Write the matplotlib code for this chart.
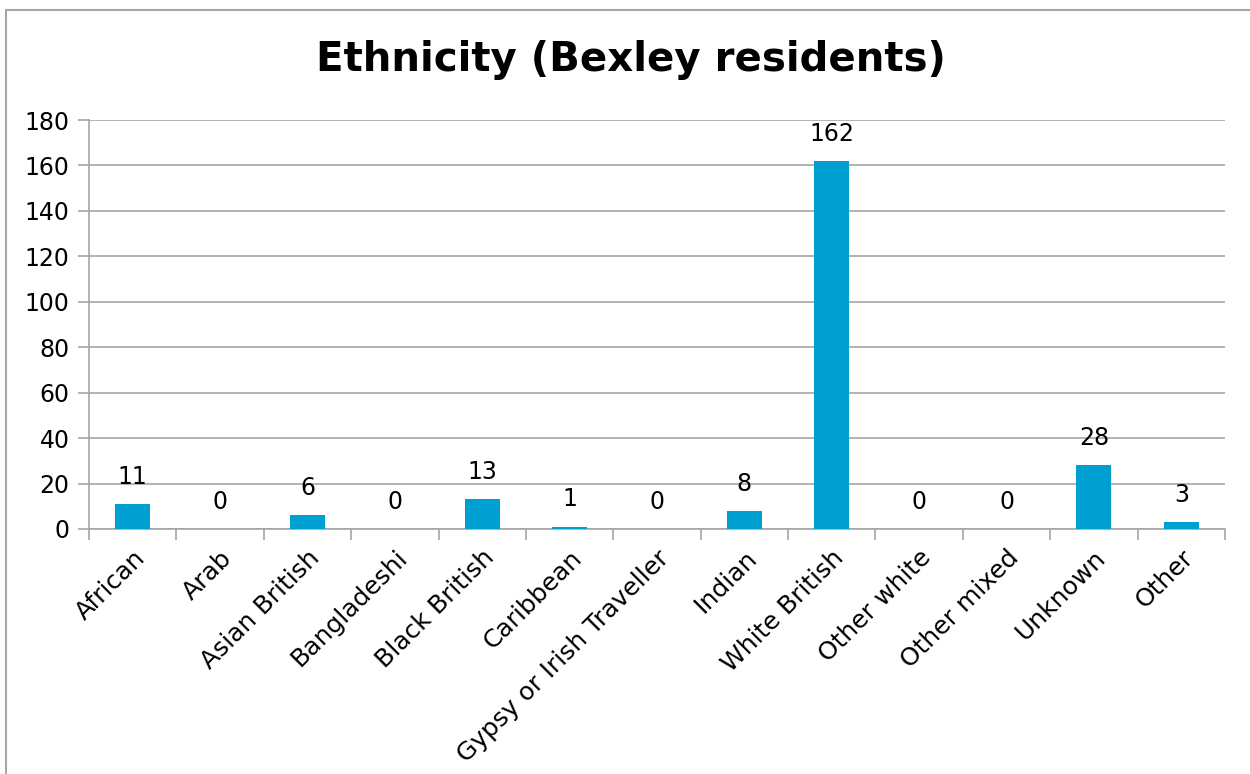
import numpy as np
import matplotlib.pyplot as plt
from matplotlib.patches import Rectangle

categories = ["African", "Arab", "Asian British", "Bangladeshi", "Black British",
              "Caribbean", "Gypsy or Irish Traveller", "Indian", "White British",
              "Other white", "Other mixed", "Unknown", "Other"]
counts = [11, 0, 6, 0, 13, 1, 0, 8, 162, 0, 0, 28, 3]

plt.rcParams['font.family'] = ['DejaVu Sans']

fig = plt.figure(figsize=(12.5, 7.74), dpi=100)
ax = fig.add_axes([89 / 1250, 1 - 529 / 774, (1225 - 89) / 1250, (529 - 120) / 774])

# outer chart border
fig.patches.append(Rectangle((6 / 1250, -0.1), 1.2, 1 - 10 / 774 + 0.1,
                             transform=fig.transFigure, fill=False,
                             edgecolor='#A6A6A6', linewidth=1.5))

x = np.arange(len(categories))
ax.bar(x, counts, width=0.4, color='#009FD1', zorder=3)

for xi, v in zip(x, counts):
    ax.annotate(str(v), (xi, v), xytext=(0, 11), textcoords='offset points',
                ha='center', va='bottom', fontsize=17, color='black')

ax.set_xlim(-0.5, len(categories) - 0.5)
ax.set_ylim(0, 180)
ax.set_yticks(np.arange(0, 181, 20))
ax.yaxis.grid(True, color='#A6A6A6', linewidth=1.2)
ax.set_axisbelow(True)

for side in ['top', 'right']:
    ax.spines[side].set_visible(False)
for side in ['left', 'bottom']:
    ax.spines[side].set_color('#A6A6A6')
    ax.spines[side].set_linewidth(1.2)

# category ticks sit between the bars
ax.set_xticks(np.arange(-0.5, len(categories)), minor=False)
ax.set_xticklabels([])
ax.set_xticks(x, minor=True)
ax.set_xticklabels(categories, minor=True, rotation=45, ha='right',
                   rotation_mode='anchor', fontsize=18)
ax.tick_params(axis='x', which='major', length=8, width=1.2, color='#A6A6A6')
ax.tick_params(axis='x', which='minor', length=0, pad=12)
ax.tick_params(axis='y', length=8, width=1.2, color='#A6A6A6', labelsize=17, pad=6)

fig.text(0.505, 1 - 60 / 774, "Ethnicity (Bexley residents)", ha='center', va='center',
         fontsize=29, fontweight='bold')

fig.savefig("out.png", dpi=100)
